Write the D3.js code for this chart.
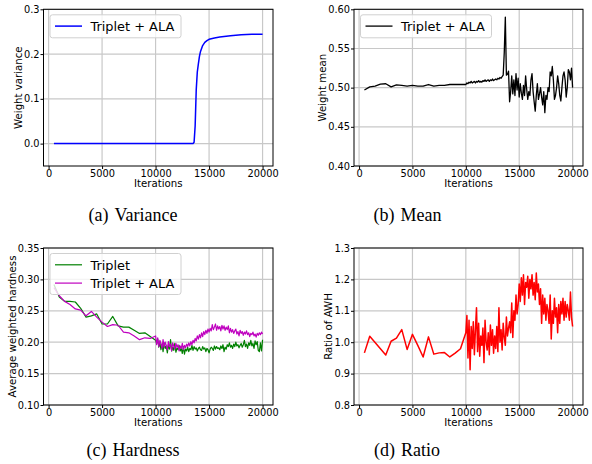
<!DOCTYPE html>
<html>
<head>
<meta charset="utf-8">
<script src="https://cdn.jsdelivr.net/npm/d3@7"></script>
<style>
  body { margin: 0; background: #fff; }
  svg { display: block; }
</style>
</head>
<body>
<svg width="592" height="464"></svg>
<script>
// iteration grid: every 500 up to 9500, then every 100 from 10000
var sparseIters = [500, 1000, 1500, 2000, 2500, 3000, 3500, 4000, 4500, 5000,
                   5500, 6000, 6500, 7000, 7500, 8000, 8500, 9000, 9500];
var denseIters = d3.range(10000, 20001, 100);

var xTicks = [0, 5000, 10000, 15000, 20000];

// (a) weight variance
var varianceIters  = [500, 13500, 13600, 13700, 13800, 13900, 14000, 14100, 14200, 14400,
                      14600, 14800, 15000, 15500, 16000, 17000, 18000, 19000, 20000];
var varianceValues = [0, 0, 0.003, 0.04, 0.12, 0.16, 0.178, 0.195, 0.206, 0.219,
                      0.226, 0.230, 0.233, 0.236, 0.238, 0.241, 0.243, 0.244, 0.2445];
var varianceTicks = [0, 0.1, 0.2, 0.3];

// (b) weight mean
var meanSparse = [0.497, 0.501, 0.502, 0.5045, 0.505, 0.501, 0.5035, 0.503, 0.502, 0.503,
                  0.502, 0.502, 0.504, 0.502, 0.503, 0.503, 0.504, 0.504, 0.504];
var meanDense = [
  0.504, 0.506, 0.505, 0.507, 0.506, 0.508, 0.506, 0.507, 0.508, 0.506,
  0.508, 0.507, 0.509, 0.507, 0.508, 0.507, 0.509, 0.508, 0.510, 0.508,
  0.509, 0.510, 0.508, 0.510, 0.509, 0.511, 0.509, 0.510, 0.511, 0.510,
  0.512, 0.511, 0.513, 0.512, 0.514, 0.516, 0.545, 0.590, 0.516, 0.517,
  0.521, 0.482, 0.495, 0.515, 0.492, 0.510, 0.490, 0.518, 0.497, 0.512,
  0.488, 0.505, 0.493, 0.485, 0.503, 0.490, 0.515, 0.498, 0.485, 0.495,
  0.490, 0.510, 0.518, 0.495, 0.482, 0.470, 0.490, 0.505, 0.485, 0.492,
  0.500, 0.488, 0.478, 0.495, 0.468, 0.490, 0.485, 0.500, 0.495, 0.520,
  0.515, 0.527, 0.510, 0.485, 0.490, 0.500, 0.515, 0.505, 0.490, 0.483,
  0.500, 0.515, 0.520, 0.510, 0.488, 0.500, 0.523, 0.520, 0.510, 0.525,
  0.500];
var meanTicks = [0.40, 0.45, 0.50, 0.55, 0.60];

// (c) average weighted hardness
var tripletSparse = [0.292, 0.272, 0.265, 0.265, 0.264, 0.254, 0.240, 0.242, 0.245, 0.229,
                     0.229, 0.241, 0.226, 0.224, 0.224, 0.219, 0.214, 0.215, 0.209];
var tripletDense = [
  0.203, 0.198, 0.205, 0.192, 0.200, 0.188, 0.197, 0.185, 0.199, 0.190,
  0.194, 0.183, 0.196, 0.189, 0.204, 0.186, 0.192, 0.187, 0.198, 0.184,
  0.191, 0.188, 0.195, 0.186, 0.190, 0.182, 0.193, 0.181, 0.189, 0.186,
  0.192, 0.185, 0.190, 0.188, 0.195, 0.187, 0.193, 0.189, 0.191, 0.186,
  0.190, 0.192, 0.188, 0.187, 0.193, 0.189, 0.191, 0.185, 0.190, 0.188,
  0.183, 0.189, 0.192, 0.190, 0.187, 0.194, 0.189, 0.193, 0.190, 0.191,
  0.188, 0.194, 0.190, 0.196, 0.185, 0.192, 0.189, 0.196, 0.193, 0.199,
  0.192, 0.195, 0.190, 0.197, 0.193, 0.200, 0.194, 0.196, 0.191, 0.195,
  0.198, 0.192, 0.196, 0.203, 0.193, 0.197, 0.190, 0.199, 0.195, 0.203,
  0.194, 0.198, 0.190, 0.202, 0.196, 0.201, 0.187, 0.185, 0.199, 0.186,
  0.204];
var alaSparse = [0.287, 0.274, 0.265, 0.260, 0.253, 0.251, 0.242, 0.249, 0.240, 0.232,
                 0.225, 0.228, 0.227, 0.216, 0.215, 0.210, 0.204, 0.207, 0.206];
var alaDense = [
  0.210, 0.196, 0.207, 0.193, 0.203, 0.198, 0.190, 0.204, 0.192, 0.200,
  0.195, 0.188, 0.201, 0.193, 0.197, 0.186, 0.199, 0.194, 0.189, 0.198,
  0.192, 0.196, 0.186, 0.194, 0.190, 0.198, 0.188, 0.195, 0.191, 0.197,
  0.193, 0.199, 0.194, 0.201, 0.196, 0.203, 0.199, 0.206, 0.202, 0.210,
  0.205, 0.212, 0.207, 0.215, 0.209, 0.217, 0.212, 0.219, 0.214, 0.221,
  0.216, 0.222, 0.218, 0.228, 0.220, 0.224, 0.229, 0.219, 0.226, 0.221,
  0.225, 0.218, 0.227, 0.221, 0.226, 0.219, 0.224, 0.220, 0.226, 0.215,
  0.222, 0.216, 0.220, 0.214, 0.218, 0.221, 0.213, 0.217, 0.210, 0.219,
  0.214, 0.217, 0.211, 0.216, 0.213, 0.218, 0.212, 0.215, 0.209, 0.214,
  0.212, 0.216, 0.210, 0.213, 0.208, 0.214, 0.211, 0.215, 0.212, 0.216,
  0.213];
var hardnessTicks = [0.10, 0.15, 0.20, 0.25, 0.30, 0.35];

// (d) ratio of AWH
var ratioSparse = [0.966, 1.019, 0.999, 0.979, 0.959, 1.003, 1.013, 1.040, 0.977, 1.025,
                   0.990, 0.953, 1.017, 0.962, 0.966, 0.967, 0.953, 0.965, 0.979];
var ratioDense = [
  1.030, 1.085, 0.950, 1.070, 0.912, 1.050, 0.980, 1.065, 0.960, 1.040,
  1.110, 0.970, 1.060, 0.955, 1.020, 0.990, 1.045, 0.935, 1.070, 1.000,
  0.975, 1.030, 0.960, 1.055, 0.990, 1.040, 0.965, 1.020, 0.980, 1.050,
  0.970, 1.110, 1.000, 1.040, 0.975, 1.060, 1.015, 0.990, 1.080, 1.020,
  1.045, 1.065, 1.030, 1.125, 1.015, 1.100, 1.070, 1.150, 1.090, 1.120,
  1.185, 1.130, 1.205, 1.150, 1.215, 1.120, 1.190, 1.175, 1.210, 1.140,
  1.200, 1.170, 1.215, 1.150, 1.190, 1.135, 1.220, 1.160, 1.185, 1.120,
  1.170, 1.060, 1.150, 1.090, 1.140, 1.070, 1.120, 1.100, 1.060, 1.150,
  1.010, 1.100, 1.060, 1.140, 1.080, 1.110, 1.030, 1.120, 1.060, 1.130,
  1.090, 1.140, 1.070, 1.130, 1.080, 1.120, 1.100, 1.070, 1.160, 1.080,
  1.050];
var ratioTicks = [0.8, 0.9, 1.0, 1.1, 1.2, 1.3];

var svg = d3.select("svg");
var font = "'DejaVu Sans', sans-serif";

function pairs(xs, ys) {
  return d3.zip(xs, ys);
}
function joined(sparse, dense) {
  return pairs(sparseIters, sparse).concat(pairs(denseIters, dense));
}

function panel(o) {
  var x = d3.scaleLinear().domain([-475, 20975]).range([o.left, o.right]);
  var y = d3.scaleLinear().domain(o.yDomain).range([o.bottom, o.top]);
  var g = svg.append("g");

  // grid
  g.selectAll(".vg").data(xTicks).enter().append("line")
      .attr("x1", function(d) { return x(d); })
      .attr("x2", function(d) { return x(d); })
      .attr("y1", o.top).attr("y2", o.bottom)
      .attr("stroke", "#c8c8c8").attr("stroke-width", 1.2);
  g.selectAll(".hg").data(o.yTicks).enter().append("line")
      .attr("y1", function(d) { return y(d); })
      .attr("y2", function(d) { return y(d); })
      .attr("x1", o.left).attr("x2", o.right)
      .attr("stroke", "#c8c8c8").attr("stroke-width", 1.2);

  var line = d3.line()
      .x(function(d) { return x(d[0]); })
      .y(function(d) { return y(d[1]); });

  o.series.forEach(function(s) {
    g.append("path")
        .datum(s.points)
        .attr("d", line)
        .attr("fill", "none")
        .attr("stroke", s.color)
        .attr("stroke-width", s.width || 1.3)
        .attr("stroke-linejoin", "round");
  });

  var xa = g.append("g")
      .attr("transform", "translate(0," + o.bottom + ")")
      .call(d3.axisBottom(x).tickValues(xTicks).tickSize(3).tickPadding(1).tickFormat(d3.format("d")));
  var ya = g.append("g")
      .attr("transform", "translate(" + o.left + ",0)")
      .call(d3.axisLeft(y).tickValues(o.yTicks).tickSize(3).tickPadding(1).tickFormat(d3.format(o.fmt)));
  [xa, ya].forEach(function(a) {
    a.select(".domain").remove();
    a.attr("font-family", font).attr("font-size", 9.8);
    a.selectAll("text").attr("fill", "#000");
    a.selectAll("line").attr("stroke", "#000");
  });

  g.append("rect")
      .attr("x", o.left).attr("y", o.top)
      .attr("width", o.right - o.left).attr("height", o.bottom - o.top)
      .attr("fill", "none").attr("stroke", "#000").attr("stroke-width", 1);

  g.append("text")
      .attr("x", (o.left + o.right) / 2)
      .attr("y", o.bottom + 20.5)
      .attr("text-anchor", "middle")
      .attr("font-family", font).attr("font-size", 10.2)
      .text("Iterations");

  g.append("text")
      .attr("transform", "translate(" + (o.left - o.labelOffset) + "," + ((o.top + o.bottom) / 2) + ") rotate(-90)")
      .attr("text-anchor", "middle")
      .attr("font-family", font).attr("font-size", 10.2)
      .text(o.ylabel);

  // legend, only for panels with named series
  if (o.legend) {
    var lx = o.left + 6.5, ly = o.top + 5.5;
    var leg = g.append("g");
    leg.append("rect")
        .attr("x", lx).attr("y", ly)
        .attr("width", 131).attr("height", 5 + 18 * o.series.length)
        .attr("rx", 2.5)
        .attr("fill", "#fff").attr("fill-opacity", 0.8)
        .attr("stroke", "#d0d0d0").attr("stroke-width", 1);
    o.series.forEach(function(s, i) {
      var cy = ly + 11.3 + 18.3 * i;
      leg.append("line")
          .attr("x1", lx + 5).attr("x2", lx + 32)
          .attr("y1", cy).attr("y2", cy)
          .attr("stroke", s.color).attr("stroke-width", s.width || 1.3);
      leg.append("text")
          .attr("x", lx + 40.5).attr("y", cy + 4.7)
          .attr("font-family", font).attr("font-size", 12.9)
          .text(s.name);
    });
  }

  // caption
  var cap = svg.append("text")
      .attr("x", o.capX).attr("y", o.capY)
      .attr("text-anchor", "middle")
      .attr("font-family", "'Liberation Serif', 'Times New Roman', serif")
      .attr("font-size", 18);
  cap.append("tspan").text(o.capTag);
  cap.append("tspan").attr("dx", 6).text(o.capText);
}

panel({
  left: 43.5, right: 273, top: 9.3, bottom: 166,
  yDomain: [-0.05, 0.3], yTicks: varianceTicks, fmt: ".1f",
  ylabel: "Weight variance", labelOffset: 21.5, legend: true,
  series: [{ name: "Triplet + ALA", color: "#0000ff", width: 1.5, points: pairs(varianceIters, varianceValues) }],
  capX: 133, capY: 221, capTag: "(a)", capText: "Variance"
});

panel({
  left: 354, right: 583, top: 9.3, bottom: 166,
  yDomain: [0.4, 0.6], yTicks: meanTicks, fmt: ".2f",
  ylabel: "Weight mean", labelOffset: 28, legend: true,
  series: [{ name: "Triplet + ALA", color: "#000000", width: 1.3, points: joined(meanSparse, meanDense) }],
  capX: 407.5, capY: 221, capTag: "(b)", capText: "Mean"
});

panel({
  left: 43.5, right: 273, top: 248, bottom: 405,
  yDomain: [0.1, 0.35], yTicks: hardnessTicks, fmt: ".2f",
  ylabel: "Average weighted hardness", labelOffset: 28, legend: true,
  series: [
    { name: "Triplet", color: "#008000", width: 1.2, points: joined(tripletSparse, tripletDense) },
    { name: "Triplet + ALA", color: "#bf00bf", width: 1.2, points: joined(alaSparse, alaDense) }
  ],
  capX: 133, capY: 456, capTag: "(c)", capText: "Hardness"
});

panel({
  left: 354, right: 583, top: 248, bottom: 405,
  yDomain: [0.8, 1.3], yTicks: ratioTicks, fmt: ".1f",
  ylabel: "Ratio of AWH", labelOffset: 22, legend: false,
  series: [{ name: "", color: "#ff0000", width: 1.5, points: joined(ratioSparse, ratioDense) }],
  capX: 407, capY: 456, capTag: "(d)", capText: "Ratio"
});
</script>
</body>
</html>
